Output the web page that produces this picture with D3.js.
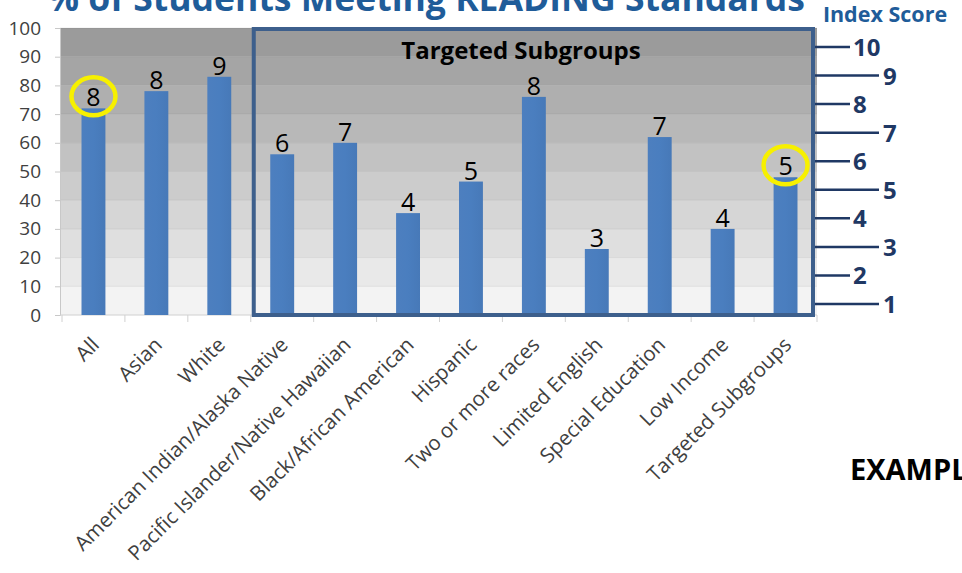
<!DOCTYPE html>
<html>
<head>
<meta charset="utf-8">
<script src="https://cdn.jsdelivr.net/npm/d3@7"></script>
<style>
  html, body { margin: 0; padding: 0; background: #ffffff; }
  svg { display: block; font-family: "Open Sans", "Noto Sans", sans-serif; }
</style>
</head>
<body>
<svg id="chart" width="962" height="573"></svg>
<script>
// ---- data ----
const categories = ["All", "Asian", "White", "American Indian/Alaska Native",
  "Pacific Islander/Native Hawaiian", "Black/African American", "Hispanic",
  "Two or more races", "Limited English", "Special Education", "Low Income",
  "Targeted Subgroups"];
const percentMeeting = [72, 78, 83, 56, 60, 35.5, 46.5, 76, 23, 62, 30, 48];
const indexScores = [8, 8, 9, 6, 7, 4, 5, 8, 3, 7, 4, 5];
const percentTicks = [0, 10, 20, 30, 40, 50, 60, 70, 80, 90, 100];
const indexTicks = [1, 2, 3, 4, 5, 6, 7, 8, 9, 10];
const targetedStart = "American Indian/Alaska Native";
const circled = ["All", "Targeted Subgroups"];

(function () {
const svg = d3.select("#chart");

const pLeft = 62, pRight = 817, pTop = 28, pBottom = 315;

const x = d3.scaleBand().domain(categories).range([pLeft, pRight])
  .paddingInner(0.62).paddingOuter(0.31);
const y = d3.scaleLinear().domain([0, 100]).range([pBottom, pTop]);
const yIdx = d3.scaleLinear().domain([1, 10]).range([304, 47]);
const step = x.step();

// background bands
const shade = d3.interpolateRgb("#f3f3f3", "#9b9b9b");
const bandPairs = d3.pairs(percentTicks);
svg.append("g").selectAll("rect").data(bandPairs).join("rect")
  .attr("x", pLeft - 2).attr("width", pRight - pLeft + 2)
  .attr("y", d => y(d[1])).attr("height", d => y(d[0]) - y(d[1]))
  .attr("fill", (d, i) => shade(i / (bandPairs.length - 1)));

// gridlines
svg.append("g").selectAll("line").data(percentTicks.slice(1)).join("line")
  .attr("x1", pLeft - 2).attr("x2", pRight)
  .attr("y1", d => y(d)).attr("y2", d => y(d))
  .attr("stroke", "rgba(0,0,0,0.07)").attr("stroke-width", 1);

// left axis
const yAxis = svg.append("g").attr("transform", `translate(${pLeft - 2},0)`)
  .call(d3.axisLeft(y).tickValues(percentTicks).tickSize(5).tickPadding(14));
yAxis.select(".domain").attr("stroke", "#c8c8c8");
yAxis.selectAll(".tick line").attr("stroke", "#c8c8c8");
yAxis.selectAll(".tick text").attr("font-size", 19).attr("fill", "#404040")
  .attr("font-family", "Open Sans, sans-serif");

// bottom axis line + ticks at band boundaries
const boundaries = categories.map(c => x(c) - step * x.paddingInner() / 2)
  .concat([x(categories[categories.length - 1]) + x.bandwidth() + step * x.paddingInner() / 2]);
svg.append("line").attr("x1", pLeft - 2).attr("x2", pRight)
  .attr("y1", pBottom).attr("y2", pBottom).attr("stroke", "#d0d0d0");
svg.append("g").selectAll("line").data(boundaries).join("line")
  .attr("x1", d => d).attr("x2", d => d)
  .attr("y1", pBottom).attr("y2", pBottom + 7)
  .attr("stroke", "#d0d0d0");

// bars
const barGrad = svg.append("defs").append("linearGradient").attr("id", "barg")
  .attr("x1", 0).attr("x2", 1).attr("y1", 0).attr("y2", 0);
barGrad.append("stop").attr("offset", "0%").attr("stop-color", "#4d7fbf");
barGrad.append("stop").attr("offset", "50%").attr("stop-color", "#4a7ebf");
barGrad.append("stop").attr("offset", "100%").attr("stop-color", "#4779b8");

svg.append("g").selectAll("rect").data(categories).join("rect")
  .attr("x", d => x(d)).attr("width", x.bandwidth())
  .attr("y", (d, i) => y(percentMeeting[i]))
  .attr("height", (d, i) => pBottom - y(percentMeeting[i]))
  .attr("fill", "url(#barg)");

// value labels (index score)
svg.append("g").selectAll("text").data(categories).join("text")
  .attr("x", d => x(d) + x.bandwidth() / 2)
  .attr("y", (d, i) => y(percentMeeting[i]) - 2)
  .attr("text-anchor", "middle")
  .attr("font-size", 25).attr("fill", "#000")
  .text((d, i) => indexScores[i]);

// yellow circles
svg.append("g").selectAll("ellipse").data(circled).join("ellipse")
  .attr("cx", d => x(d) + x.bandwidth() / 2)
  .attr("cy", d => y(percentMeeting[categories.indexOf(d)]) - 12)
  .attr("rx", 22).attr("ry", 19)
  .attr("fill", "none").attr("stroke", "#f7f000").attr("stroke-width", 4.5);

// targeted subgroup box
const boxLeft = x(targetedStart) - step * x.paddingInner() / 2 + 3;
const boxRight = pRight - 4;
svg.append("rect")
  .attr("x", boxLeft).attr("y", pTop + 1)
  .attr("width", boxRight - boxLeft).attr("height", pBottom - pTop - 1)
  .attr("fill", "none").attr("stroke", "#3d5f8c").attr("stroke-width", 4);
svg.append("text").attr("x", 521).attr("y", 59)
  .attr("text-anchor", "middle").attr("font-size", 24).attr("font-weight", "bold")
  .attr("fill", "#000").text("Targeted Subgroups");

// right index-score axis
const idx = svg.append("g");
idx.selectAll("line").data(indexTicks).join("line")
  .attr("x1", boxRight + 2)
  .attr("x2", d => d % 2 === 0 ? 850 : 879)
  .attr("y1", d => yIdx(d)).attr("y2", d => yIdx(d))
  .attr("stroke", "#1f3864").attr("stroke-width", 2.5);
idx.selectAll("text").data(indexTicks).join("text")
  .attr("x", d => d % 2 === 0 ? 853 : 883)
  .attr("y", d => yIdx(d) + 9)
  .attr("font-size", 24).attr("font-weight", "bold").attr("fill", "#1f3864")
  .text(d => d);

svg.append("text").attr("x", 885).attr("y", 22).attr("text-anchor", "middle")
  .attr("font-size", 21.5).attr("font-weight", "bold").attr("fill", "#1f5c99")
  .text("Index Score");

// title (cropped at top, as in the reference)
svg.append("text").attr("x", 47).attr("y", 11)
  .attr("font-size", 35).attr("font-weight", "bold").attr("fill", "#1f5c99")
  .attr("textLength", 758).attr("lengthAdjust", "spacingAndGlyphs")
  .text("% of Students Meeting READING Standards");

// category labels
svg.append("g").selectAll("text").data(categories).join("text")
  .attr("transform", d => `translate(${x(d) + x.bandwidth() / 2 + 7},${pBottom + 31}) rotate(-45)`)
  .attr("text-anchor", "end")
  .attr("font-size", 20.5).attr("fill", "#404040")
  .text(d => d);

// EXAMPLE stamp (cropped at right, as in the reference)
svg.append("text").attr("x", 850).attr("y", 480)
  .attr("font-size", 29).attr("font-weight", "bold").attr("fill", "#000")
  .text("EXAMPLE");
})();
</script>
</body>
</html>
